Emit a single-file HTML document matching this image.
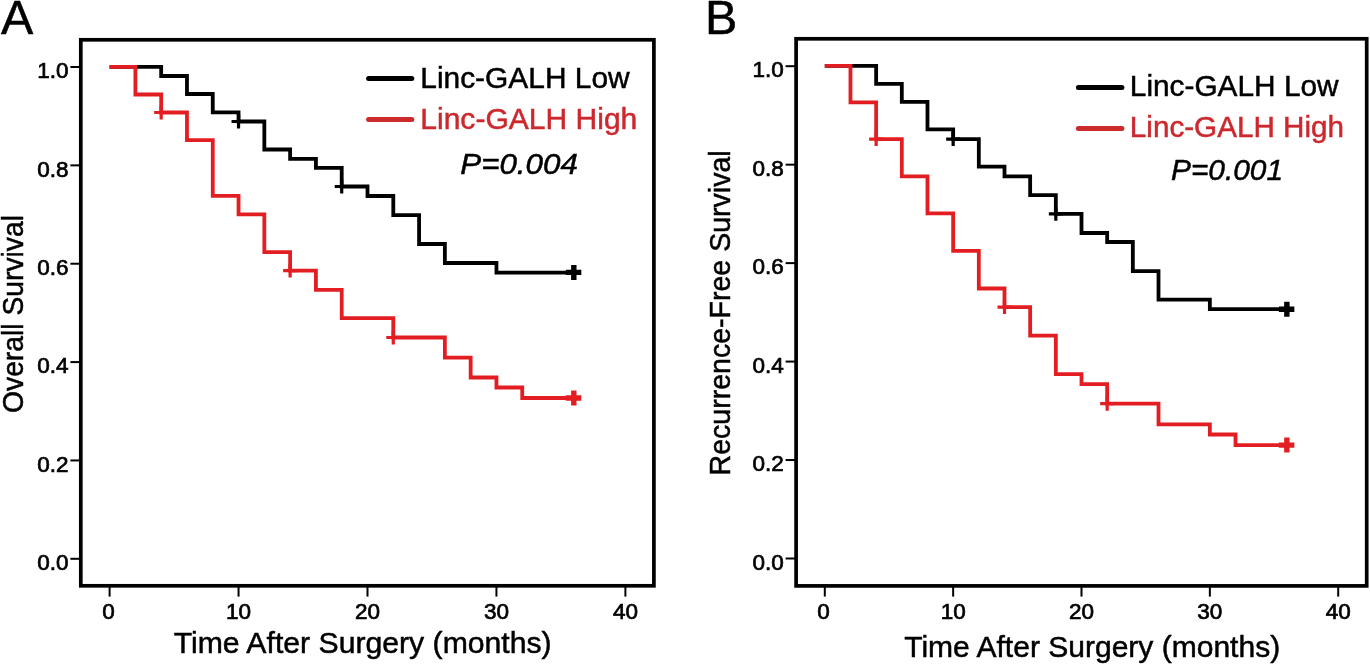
<!DOCTYPE html>
<html><head><meta charset="utf-8"><style>
html,body{margin:0;padding:0;background:#fff;}
body{width:1370px;height:665px;overflow:hidden;}
svg{display:block;will-change:transform;}
text{font-family:"Liberation Sans", sans-serif;fill:#000;stroke:#000;stroke-width:0.5px;}
.tk{font-size:22.5px;stroke-width:0.7px;}
.tx{font-size:22.5px;stroke-width:0.7px;}
.lg{font-size:30px;}
.pv{font-size:30px;font-style:italic;}
.ax{font-size:30px;}
.pl{font-size:48.4px;}
.rd{fill:#cc282e;stroke:#cc282e;}
</style></head><body>
<svg width="1370" height="665" viewBox="0 0 1370 665">
<rect width="1370" height="665" fill="#fff"/>
<rect x="80.8" y="39.8" width="573.1" height="546.0" fill="none" stroke="#000" stroke-width="3.7"/>
<line x1="70.4" y1="558.80" x2="80.8" y2="558.80" stroke="#000" stroke-width="2"/>
<text x="68.6" y="570.00" text-anchor="end" class="tk">0.0</text>
<line x1="70.4" y1="460.44" x2="80.8" y2="460.44" stroke="#000" stroke-width="2"/>
<text x="68.6" y="471.64" text-anchor="end" class="tk">0.2</text>
<line x1="70.4" y1="362.08" x2="80.8" y2="362.08" stroke="#000" stroke-width="2"/>
<text x="68.6" y="373.28" text-anchor="end" class="tk">0.4</text>
<line x1="70.4" y1="263.72" x2="80.8" y2="263.72" stroke="#000" stroke-width="2"/>
<text x="68.6" y="274.92" text-anchor="end" class="tk">0.6</text>
<line x1="70.4" y1="165.36" x2="80.8" y2="165.36" stroke="#000" stroke-width="2"/>
<text x="68.6" y="176.56" text-anchor="end" class="tk">0.8</text>
<line x1="70.4" y1="67.00" x2="80.8" y2="67.00" stroke="#000" stroke-width="2"/>
<text x="68.6" y="78.20" text-anchor="end" class="tk">1.0</text>
<line x1="109.60" y1="585.8" x2="109.60" y2="596.6" stroke="#000" stroke-width="2"/>
<text x="108.40" y="618.8" text-anchor="middle" class="tx">0</text>
<line x1="238.55" y1="585.8" x2="238.55" y2="596.6" stroke="#000" stroke-width="2"/>
<text x="238.55" y="618.8" text-anchor="middle" class="tx">10</text>
<line x1="367.50" y1="585.8" x2="367.50" y2="596.6" stroke="#000" stroke-width="2"/>
<text x="367.50" y="618.8" text-anchor="middle" class="tx">20</text>
<line x1="496.45" y1="585.8" x2="496.45" y2="596.6" stroke="#000" stroke-width="2"/>
<text x="496.45" y="618.8" text-anchor="middle" class="tx">30</text>
<line x1="625.40" y1="585.8" x2="625.40" y2="596.6" stroke="#000" stroke-width="2"/>
<text x="625.40" y="618.8" text-anchor="middle" class="tx">40</text>
<path d="M109.60,66.90 L161.18,66.90 L161.18,76.00 L186.97,76.00 L186.97,94.00 L212.76,94.00 L212.76,112.40 L238.55,112.40 L238.55,121.50 L264.34,121.50 L264.34,149.50 L290.13,149.50 L290.13,158.90 L315.92,158.90 L315.92,167.90 L341.71,167.90 L341.71,186.50 L367.50,186.50 L367.50,196.00 L393.29,196.00 L393.29,215.20 L419.08,215.20 L419.08,244.00 L444.87,244.00 L444.87,263.00 L496.45,263.00 L496.45,272.60 L573.82,272.60" fill="none" stroke="#000" stroke-width="3.8" stroke-linejoin="miter" stroke-linecap="butt"/>
<path d="M231.55,121.50 H245.55 M238.55,114.50 V128.50" stroke="#000" stroke-width="3.2" fill="none"/>
<path d="M334.71,186.50 H348.71 M341.71,179.50 V193.50" stroke="#000" stroke-width="3.2" fill="none"/>
<path d="M565.82,272.40 H581.32 M573.82,264.90 V279.90" stroke="#000" stroke-width="5.4" fill="none"/>
<path d="M109.60,66.90 L135.39,66.90 L135.39,94.50 L161.18,94.50 L161.18,112.50 L186.97,112.50 L186.97,140.20 L212.76,140.20 L212.76,195.80 L238.55,195.80 L238.55,214.30 L264.34,214.30 L264.34,252.20 L290.13,252.20 L290.13,270.60 L315.92,270.60 L315.92,289.80 L341.71,289.80 L341.71,318.20 L393.29,318.20 L393.29,337.50 L444.87,337.50 L444.87,357.60 L470.66,357.60 L470.66,377.50 L496.45,377.50 L496.45,387.50 L522.24,387.50 L522.24,398.00 L573.82,398.00" fill="none" stroke="#e31e22" stroke-width="3.8" stroke-linejoin="miter" stroke-linecap="butt"/>
<path d="M154.18,112.50 H168.18 M161.18,105.50 V119.50" stroke="#e31e22" stroke-width="3.2" fill="none"/>
<path d="M283.13,270.60 H297.13 M290.13,263.60 V277.60" stroke="#e31e22" stroke-width="3.2" fill="none"/>
<path d="M386.29,337.50 H400.29 M393.29,330.50 V344.50" stroke="#e31e22" stroke-width="3.2" fill="none"/>
<path d="M565.82,398.00 H581.32 M573.82,390.50 V405.50" stroke="#e31e22" stroke-width="5.4" fill="none"/>
<line x1="368.6" y1="78.6" x2="411.8" y2="78.6" stroke="#000" stroke-width="5" stroke-linecap="round"/>
<line x1="368.6" y1="119.5" x2="411.8" y2="119.5" stroke="#cc2b2b" stroke-width="5" stroke-linecap="round"/>
<text x="420.3" y="87.7" class="lg" textLength="209.3" lengthAdjust="spacingAndGlyphs">Linc-GALH Low</text>
<text x="420.3" y="128.5" class="lg rd" textLength="217" lengthAdjust="spacingAndGlyphs">Linc-GALH High</text>
<text x="460.3" y="174.2" class="pv" textLength="117.5" lengthAdjust="spacingAndGlyphs">P=0.004</text>
<text x="173.7" y="652.9" class="ax" textLength="378" lengthAdjust="spacingAndGlyphs">Time After Surgery (months)</text>
<text transform="translate(23.3,413) rotate(-90)" x="0" y="0" class="ax" textLength="198" lengthAdjust="spacingAndGlyphs">Overall Survival</text>
<text x="0.9" y="34.2" class="pl">A</text>
<rect x="796.1" y="38.8" width="570.6" height="547.1" fill="none" stroke="#000" stroke-width="3.7"/>
<line x1="785.6" y1="558.50" x2="796.1" y2="558.50" stroke="#000" stroke-width="2"/>
<text x="783.9" y="569.70" text-anchor="end" class="tk">0.0</text>
<line x1="785.6" y1="460.04" x2="796.1" y2="460.04" stroke="#000" stroke-width="2"/>
<text x="783.9" y="471.24" text-anchor="end" class="tk">0.2</text>
<line x1="785.6" y1="361.58" x2="796.1" y2="361.58" stroke="#000" stroke-width="2"/>
<text x="783.9" y="372.78" text-anchor="end" class="tk">0.4</text>
<line x1="785.6" y1="263.12" x2="796.1" y2="263.12" stroke="#000" stroke-width="2"/>
<text x="783.9" y="274.32" text-anchor="end" class="tk">0.6</text>
<line x1="785.6" y1="164.66" x2="796.1" y2="164.66" stroke="#000" stroke-width="2"/>
<text x="783.9" y="175.86" text-anchor="end" class="tk">0.8</text>
<line x1="785.6" y1="66.20" x2="796.1" y2="66.20" stroke="#000" stroke-width="2"/>
<text x="783.9" y="77.40" text-anchor="end" class="tk">1.0</text>
<line x1="824.80" y1="585.9" x2="824.80" y2="596.6" stroke="#000" stroke-width="2"/>
<text x="823.60" y="618.8" text-anchor="middle" class="tx">0</text>
<line x1="953.15" y1="585.9" x2="953.15" y2="596.6" stroke="#000" stroke-width="2"/>
<text x="953.15" y="618.8" text-anchor="middle" class="tx">10</text>
<line x1="1081.50" y1="585.9" x2="1081.50" y2="596.6" stroke="#000" stroke-width="2"/>
<text x="1081.50" y="618.8" text-anchor="middle" class="tx">20</text>
<line x1="1209.85" y1="585.9" x2="1209.85" y2="596.6" stroke="#000" stroke-width="2"/>
<text x="1209.85" y="618.8" text-anchor="middle" class="tx">30</text>
<line x1="1338.20" y1="585.9" x2="1338.20" y2="596.6" stroke="#000" stroke-width="2"/>
<text x="1338.20" y="618.8" text-anchor="middle" class="tx">40</text>
<path d="M824.80,65.90 L876.14,65.90 L876.14,83.90 L901.81,83.90 L901.81,101.90 L927.48,101.90 L927.48,129.40 L953.15,129.40 L953.15,139.10 L978.82,139.10 L978.82,166.70 L1004.49,166.70 L1004.49,176.40 L1030.16,176.40 L1030.16,195.10 L1055.83,195.10 L1055.83,213.80 L1081.50,213.80 L1081.50,233.00 L1107.17,233.00 L1107.17,242.00 L1132.84,242.00 L1132.84,271.20 L1158.51,271.20 L1158.51,299.70 L1209.85,299.70 L1209.85,309.20 L1286.86,309.20" fill="none" stroke="#000" stroke-width="3.8" stroke-linejoin="miter" stroke-linecap="butt"/>
<path d="M946.15,139.10 H960.15 M953.15,132.10 V146.10" stroke="#000" stroke-width="3.2" fill="none"/>
<path d="M1048.83,213.80 H1062.83 M1055.83,206.80 V220.80" stroke="#000" stroke-width="3.2" fill="none"/>
<path d="M1278.86,309.20 H1294.36 M1286.86,301.70 V316.70" stroke="#000" stroke-width="5.4" fill="none"/>
<path d="M824.80,65.90 L850.47,65.90 L850.47,102.40 L876.14,102.40 L876.14,139.10 L901.81,139.10 L901.81,176.40 L927.48,176.40 L927.48,213.40 L953.15,213.40 L953.15,250.90 L978.82,250.90 L978.82,288.50 L1004.49,288.50 L1004.49,307.10 L1030.16,307.10 L1030.16,335.70 L1055.83,335.70 L1055.83,374.20 L1081.50,374.20 L1081.50,384.20 L1107.17,384.20 L1107.17,403.70 L1158.51,403.70 L1158.51,424.40 L1209.85,424.40 L1209.85,434.50 L1235.52,434.50 L1235.52,445.10 L1286.86,445.10" fill="none" stroke="#e31e22" stroke-width="3.8" stroke-linejoin="miter" stroke-linecap="butt"/>
<path d="M869.14,139.10 H883.14 M876.14,132.10 V146.10" stroke="#e31e22" stroke-width="3.2" fill="none"/>
<path d="M997.49,307.10 H1011.49 M1004.49,300.10 V314.10" stroke="#e31e22" stroke-width="3.2" fill="none"/>
<path d="M1100.17,403.70 H1114.17 M1107.17,396.70 V410.70" stroke="#e31e22" stroke-width="3.2" fill="none"/>
<path d="M1278.86,445.10 H1294.36 M1286.86,437.60 V452.60" stroke="#e31e22" stroke-width="5.4" fill="none"/>
<line x1="1078.4" y1="87.5" x2="1121.9" y2="87.5" stroke="#000" stroke-width="5" stroke-linecap="round"/>
<line x1="1078.4" y1="128.4" x2="1121.9" y2="128.4" stroke="#cc2b2b" stroke-width="5" stroke-linecap="round"/>
<text x="1129.8" y="96.2" class="lg" textLength="208.8" lengthAdjust="spacingAndGlyphs">Linc-GALH Low</text>
<text x="1129.8" y="137.1" class="lg rd" textLength="214.3" lengthAdjust="spacingAndGlyphs">Linc-GALH High</text>
<text x="1171" y="179.8" class="pv" textLength="112" lengthAdjust="spacingAndGlyphs">P=0.001</text>
<text x="904.2" y="657" class="ax" textLength="376" lengthAdjust="spacingAndGlyphs">Time After Surgery (months)</text>
<text transform="translate(730,475.4) rotate(-90)" x="0" y="0" class="ax" textLength="325" lengthAdjust="spacingAndGlyphs">Recurrence-Free Survival</text>
<text x="705.1" y="33.8" class="pl">B</text>
</svg>
</body></html>
